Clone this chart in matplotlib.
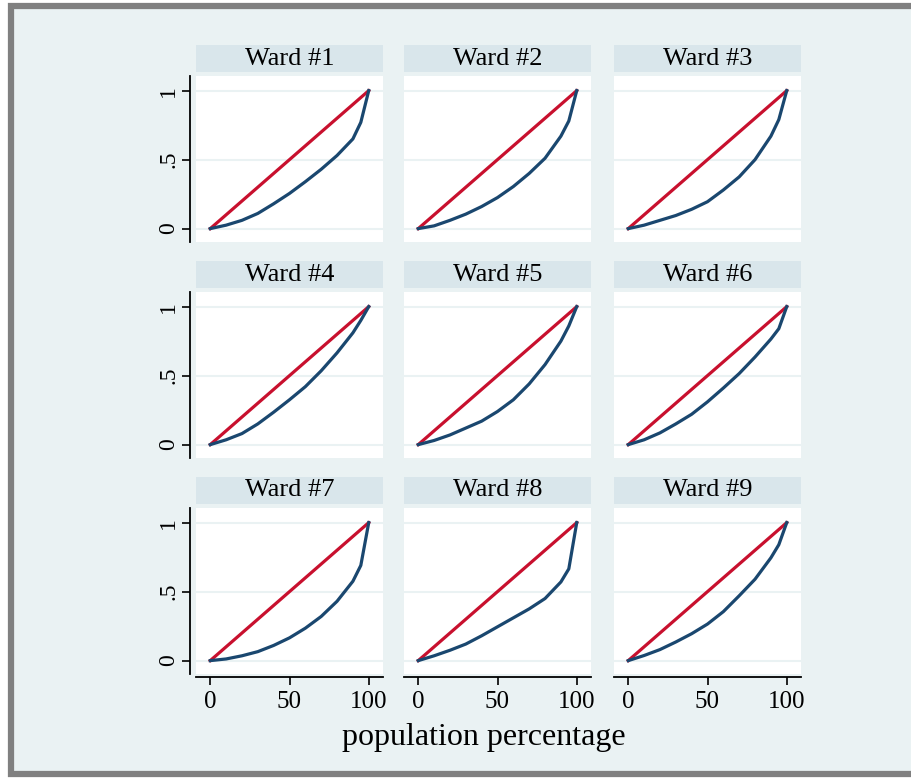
import numpy as np
import matplotlib.pyplot as plt
from matplotlib.patches import Rectangle

# population share (percent) at which each Lorenz curve is read
pop_pct = [0, 10, 20, 30, 40, 50, 60, 70, 80, 90, 95, 100]

ward_titles = ['Ward #1', 'Ward #2', 'Ward #3',
               'Ward #4', 'Ward #5', 'Ward #6',
               'Ward #7', 'Ward #8', 'Ward #9']

# cumulative share
ward1 = [0, 0.025, 0.06, 0.11, 0.18, 0.255, 0.34, 0.43, 0.53, 0.65, 0.77, 1]
ward2 = [0, 0.02, 0.06, 0.105, 0.16, 0.225, 0.305, 0.40, 0.51, 0.67, 0.78, 1]
ward3 = [0, 0.025, 0.06, 0.095, 0.14, 0.195, 0.28, 0.375, 0.50, 0.67, 0.79, 1]
ward4 = [0, 0.035, 0.08, 0.15, 0.235, 0.325, 0.42, 0.535, 0.665, 0.81, 0.90, 1]
ward5 = [0, 0.03, 0.07, 0.12, 0.17, 0.24, 0.325, 0.44, 0.58, 0.75, 0.86, 1]
ward6 = [0, 0.035, 0.085, 0.15, 0.22, 0.31, 0.41, 0.515, 0.635, 0.765, 0.84, 1]
ward7 = [0, 0.012, 0.035, 0.065, 0.11, 0.165, 0.235, 0.32, 0.43, 0.575, 0.69, 1]
ward8 = [0, 0.035, 0.075, 0.12, 0.18, 0.245, 0.31, 0.375, 0.45, 0.57, 0.665, 1]
ward9 = [0, 0.037, 0.08, 0.135, 0.195, 0.265, 0.355, 0.47, 0.59, 0.745, 0.84, 1]
wards = [ward1, ward2, ward3, ward4, ward5, ward6, ward7, ward8, ward9]

equality = [0, 100]

x_ticks = [0, 50, 100]
y_ticks = [0, 0.5, 1]
y_ticklabels = ['0', '.5', '1']

navy = '#1a476f'
cranberry = '#c8102e'
bg = '#eaf2f3'
strip_color = '#d9e6eb'

plt.rcParams['font.family'] = ['Liberation Serif', 'DejaVu Serif']

W, H = 911, 778
fig = plt.figure(figsize=(W / 100, H / 100), dpi=100)
fig.patch.set_facecolor('white')

# outer frame: grey border, light bluish background
fig.patches.append(Rectangle((11 / W, 1 - 774 / H), 1, (774 - 6) / H,
                             transform=fig.transFigure, facecolor=bg,
                             edgecolor='#808080', linewidth=4.5, zorder=-5))

col_left = [196, 404, 614]
row_top = [76, 292, 508]
pw, ph = 187, 166

for i in range(9):
    r, c = divmod(i, 3)
    left = col_left[c] / W
    bottom = 1 - (row_top[r] + ph) / H
    ax = fig.add_axes([left, bottom, pw / W, ph / H])
    ax.set_facecolor('white')

    ax.plot(equality, [0, 1], color=cranberry, lw=2.3, zorder=3)
    ax.plot(pop_pct, wards[i], color=navy, lw=2.3, zorder=4)

    ax.set_xlim(-9, 109)
    ax.set_ylim(-0.097, 1.106)
    ax.set_yticks(y_ticks)
    ax.set_xticks(x_ticks)
    ax.grid(axis='y', color=bg, lw=1.5)
    ax.set_axisbelow(True)

    for s in ax.spines.values():
        s.set_visible(False)

    if c == 0:
        ax.spines['left'].set_visible(True)
        ax.spines['left'].set_position(('outward', 4))
        ax.spines['left'].set_linewidth(1.3)
        ax.set_yticklabels(y_ticklabels, rotation=90, va='center', fontsize=17)
        ax.tick_params(axis='y', length=6, width=1.2, pad=2)
    else:
        ax.tick_params(axis='y', length=0, labelleft=False)

    if r == 2:
        ax.spines['bottom'].set_visible(True)
        ax.spines['bottom'].set_position(('outward', 2))
        ax.spines['bottom'].set_linewidth(1.3)
        ax.set_xticklabels([str(t) for t in x_ticks], fontsize=18)
        ax.tick_params(axis='x', length=6, width=1.2, pad=4)
    else:
        ax.tick_params(axis='x', length=0, labelbottom=False)

    # title strip above each panel
    ax.add_patch(Rectangle((0, 1 + 4 / ph), 1, 27 / ph, transform=ax.transAxes,
                           facecolor=strip_color, edgecolor='none', clip_on=False))
    ax.text(0.5, 1 + 17.5 / ph, ward_titles[i], transform=ax.transAxes,
            ha='center', va='center', fontsize=19)

fig.text(484 / W, 1 - 738 / H, 'population percentage',
         ha='center', va='center', fontsize=23)

fig.savefig('out.png', dpi=100)
